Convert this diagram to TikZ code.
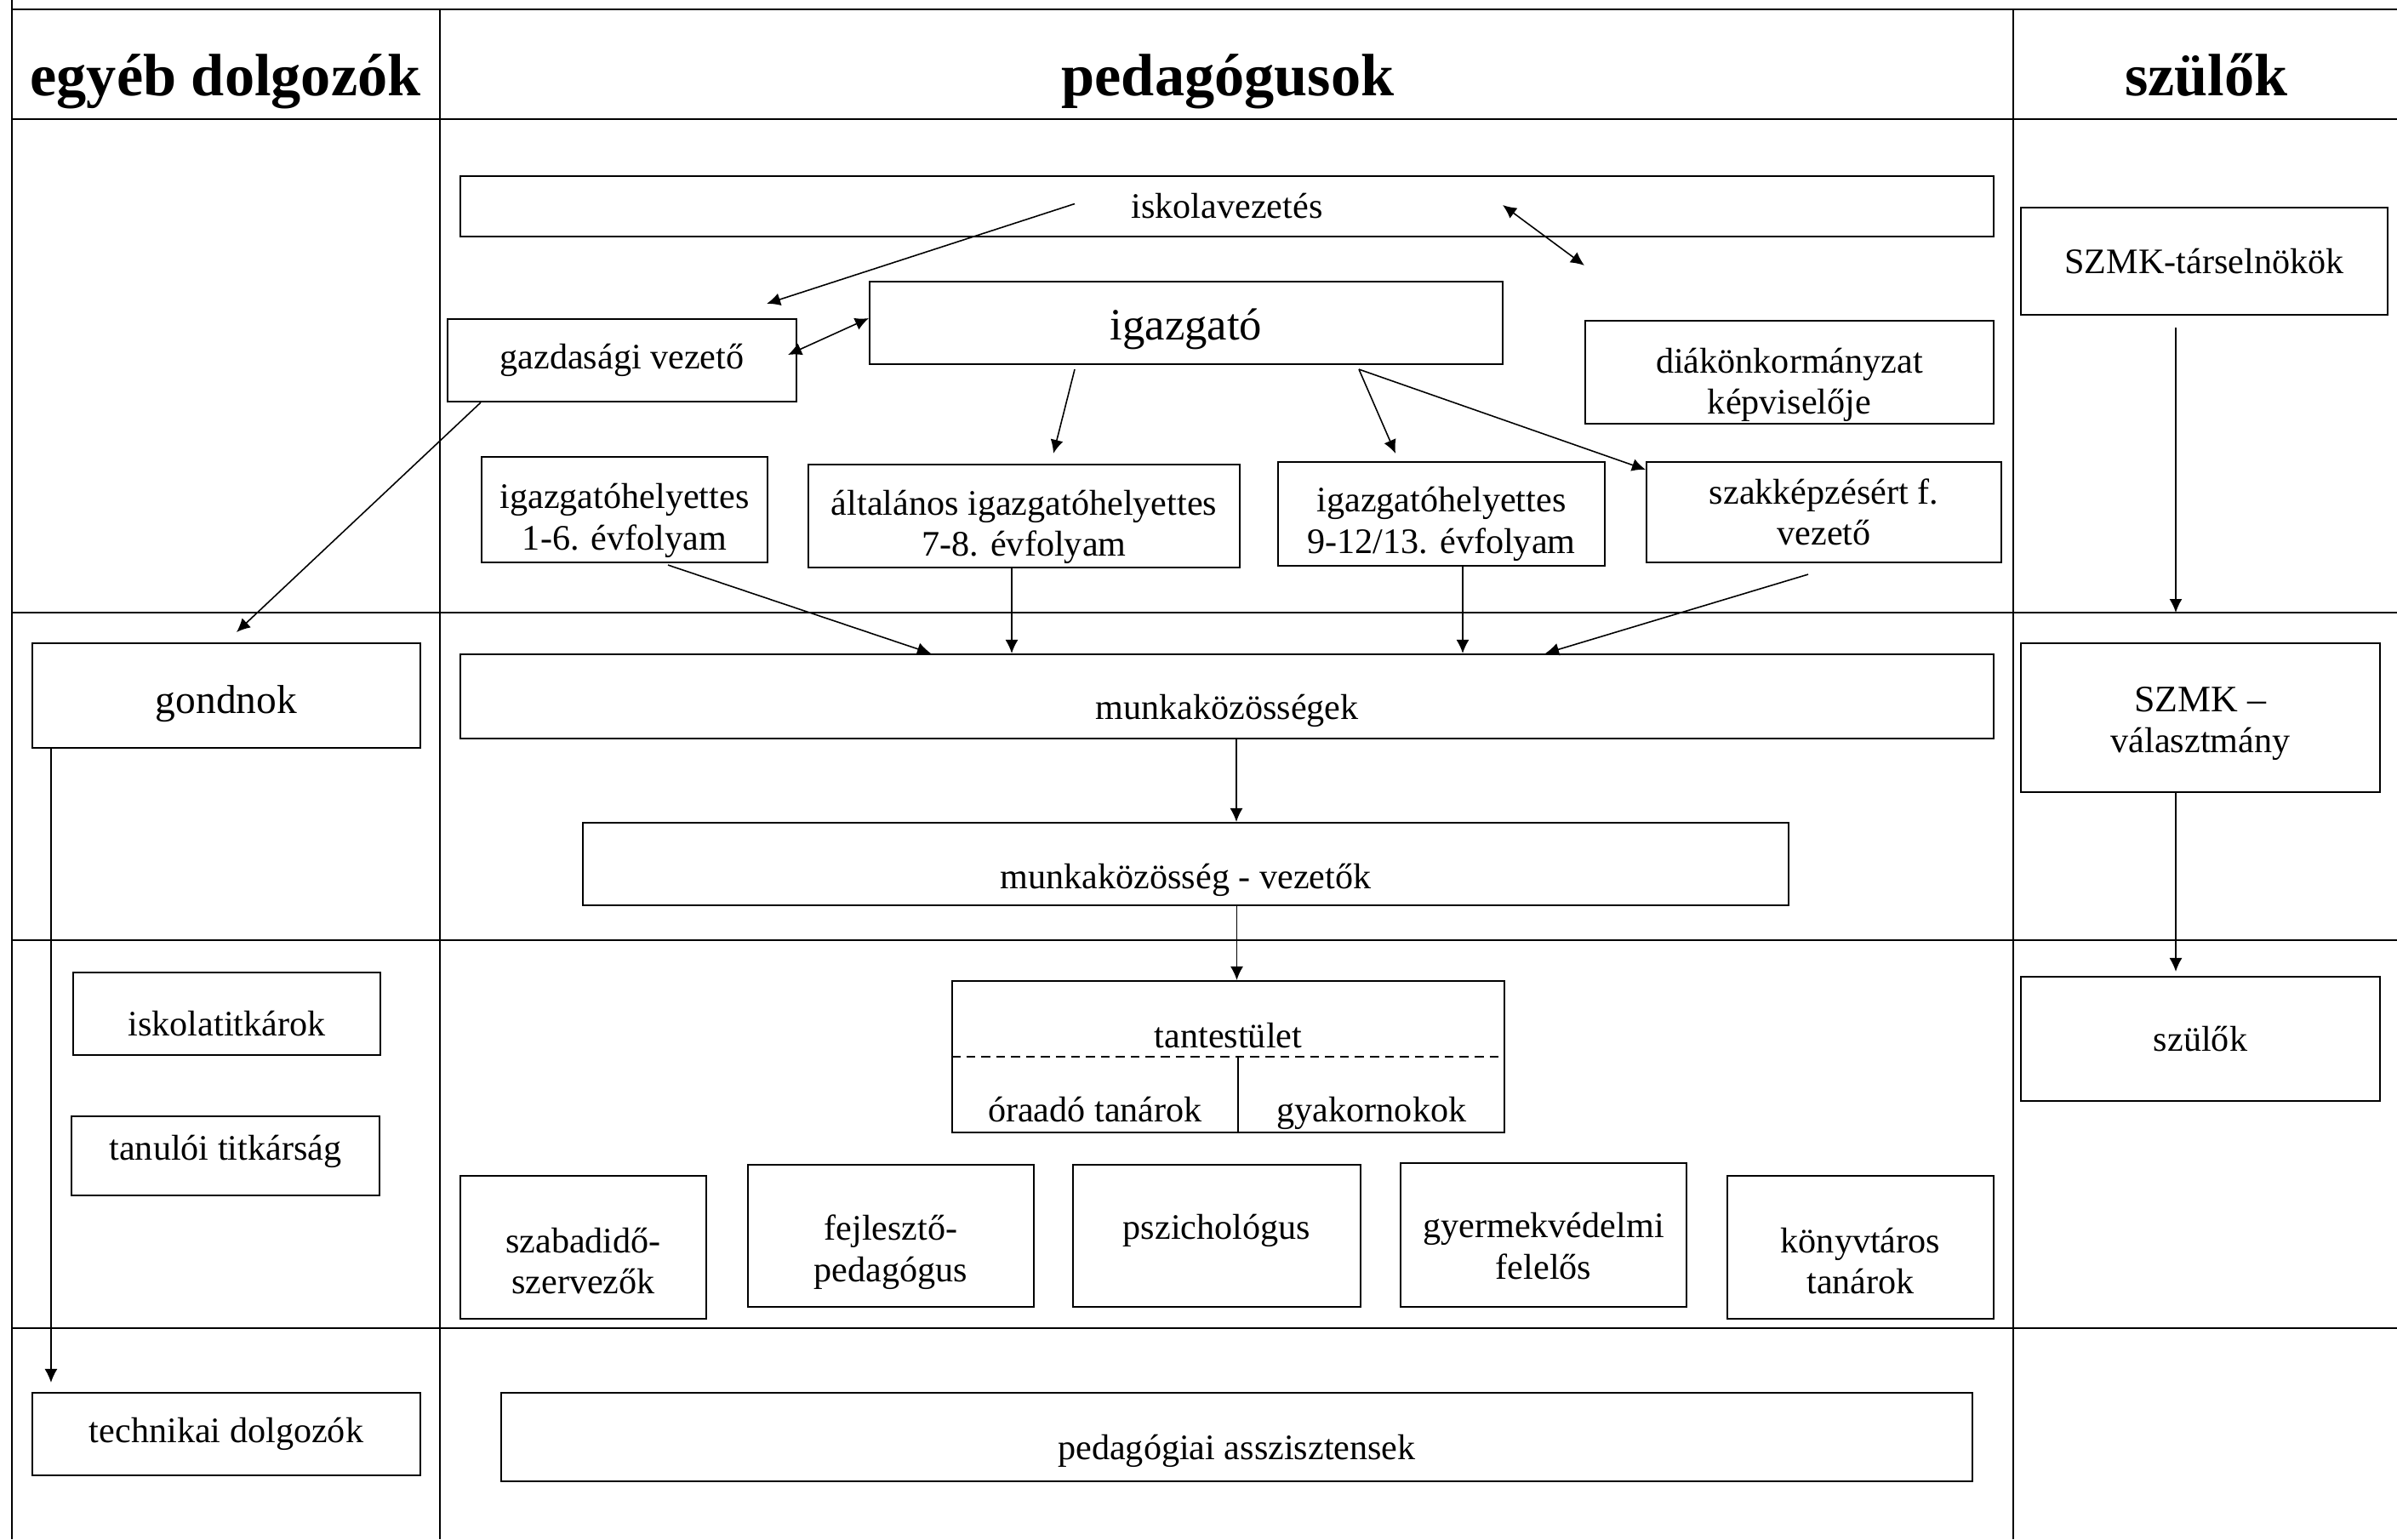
\documentclass[tikz,border=0pt]{standalone}
\usepackage{fontspec}
\setmainfont{Liberation Serif}
\usetikzlibrary{arrows.meta}

\begin{document}
\begin{tikzpicture}[
  font=\fontsize{12}{13.8}\selectfont,
  >={Latex[length=1.6mm,width=1.5mm]},
  box/.style={draw, line width=0.6pt, inner sep=0pt, align=center},
  lbl/.style 2 args={label={[align=center,yshift=#1]center:#2}},
  rowline/.style={line width=0.7pt},
  colline/.style={line width=0.5pt},
  head/.style={font=\fontsize{20}{24}\selectfont\bfseries, anchor=base},
  conn/.style={->, line width=0.45pt}
]
\useasboundingbox (0,0) rectangle (28.17,-18.09);

% table grid
\coordinate (row2) at (0.14,-7.20);
\draw[colline] (0.14,0) -- (0.14,-18.09);
\draw[colline] (5.17,-0.11) -- (5.17,-18.09);
\draw[colline] (23.66,-0.11) -- (23.66,-18.09);
\draw[rowline] (0.14,-0.11) -- (28.17,-0.11);
\draw[rowline] (0.14,-1.40) -- (28.17,-1.40);
\draw[rowline] (row2) -- (28.17,-7.20);
\draw[rowline] (0.14,-11.05) -- (28.17,-11.05);
\draw[rowline] (0.14,-15.61) -- (28.17,-15.61);

% column heads
\node (hegyeb) [head] at (2.65,-1.125) {egyéb dolgozók};
\node (hped) [head] at (14.43,-1.125) {pedagógusok};
\node (hszulo) [head] at (25.93,-1.125) {szülők};

% leadership
\node (isk) [box, minimum width=18.02cm, minimum height=0.71cm] at (14.42,-2.425) {iskolavezetés};
\node (igaz) [box, minimum width=7.44cm, minimum height=0.97cm, lbl={-0.7mm}{\fontsize{15}{18}\selectfont igazgató}] at (13.94,-3.795) {};
\node (gaz) [box, minimum width=4.10cm, minimum height=0.97cm] at (7.31,-4.235) {gazdasági vezető};
\node (diak) [box, minimum width=4.80cm, minimum height=1.21cm, lbl={-1.5mm}{diákönkormányzat\\képviselője}] at (21.03,-4.375) {};
\node (ih1) [box, minimum width=3.36cm, minimum height=1.24cm, lbl={-1.3mm}{igazgatóhelyettes\\1-6. évfolyam}] at (7.34,-5.99) {};
\node (alt) [box, minimum width=5.07cm, minimum height=1.21cm, lbl={-1.3mm}{általános igazgatóhelyettes\\7-8. évfolyam}] at (12.035,-6.065) {};
\node (ih9) [box, minimum width=3.84cm, minimum height=1.22cm, lbl={-1.2mm}{igazgatóhelyettes\\9-12/13. évfolyam}] at (16.94,-6.04) {};
\node (szakk) [box, minimum width=4.17cm, minimum height=1.18cm] at (21.435,-6.02) {szakképzésért f.\\vezető};
\node (szmkt) [box, minimum width=4.31cm, minimum height=1.26cm] at (25.905,-3.07) {SZMK-társelnökök};

% middle row
\node (gondnok) [box, minimum width=4.56cm, minimum height=1.23cm, lbl={-1mm}{\fontsize{13.5}{16}\selectfont gondnok}] at (2.66,-8.175) {};
\node (munka) [box, minimum width=18.02cm, minimum height=0.99cm, lbl={-1.7mm}{munkaközösségek}] at (14.42,-8.185) {};
\node (szmkv) [box, minimum width=4.22cm, minimum height=1.75cm, lbl={-0.7mm}{\fontsize{12.5}{14.4}\selectfont SZMK --\\választmány}] at (25.86,-8.435) {};
\node (mvez) [box, minimum width=14.17cm, minimum height=0.97cm, lbl={-1.85mm}{munkaközösség - vezetők}] at (13.935,-10.155) {};

% teaching staff
\node (tant) [box, minimum width=6.49cm, minimum height=1.78cm] at (14.435,-12.42) {};
\coordinate (tantsep) at (14.55,-12.42);
\draw[densely dashed, line width=0.4pt] (tant.west |- tantsep) -- (tant.east |- tantsep);
\draw[line width=0.5pt] (tantsep) -- (tantsep |- tant.south);
\node (tantfej) [anchor=base] at (14.435,-12.31) {tantestület};
\node (oraado) [anchor=base] at (12.87,-13.18) {óraadó tanárok};
\node (gyak) [anchor=base] at (16.12,-13.18) {gyakornokok};
\node (isktit) [box, minimum width=3.61cm, minimum height=0.97cm, lbl={-1.2mm}{iskolatitkárok}] at (2.665,-11.915) {};
\node (tantit) [box, minimum width=3.62cm, minimum height=0.93cm, lbl={0.5mm}{tanulói titkárság}] at (2.65,-13.585) {};
\node (szulok) [box, minimum width=4.22cm, minimum height=1.46cm] at (25.86,-12.21) {szülők};
\node (szab) [box, minimum width=2.89cm, minimum height=1.68cm, lbl={-1.6mm}{szabadidő-\\szervezők}] at (6.855,-14.66) {};
\node (fejl) [box, minimum width=3.36cm, minimum height=1.67cm, lbl={-1.9mm}{fejlesztő-\\pedagógus}] at (10.47,-14.525) {};
\node (pszich) [box, minimum width=3.38cm, minimum height=1.67cm, lbl={0.6mm}{pszichológus}] at (14.30,-14.525) {};
\node (gyerm) [box, minimum width=3.36cm, minimum height=1.69cm, lbl={-1.3mm}{gyermekvédelmi\\felelős}] at (18.14,-14.515) {};
\node (konyv) [box, minimum width=3.13cm, minimum height=1.68cm, lbl={-1.6mm}{könyvtáros\\tanárok}] at (21.865,-14.66) {};

% bottom row
\node (techn) [box, minimum width=4.56cm, minimum height=0.97cm] at (2.66,-16.855) {technikai dolgozók};
\node (pedass) [box, minimum width=17.29cm, minimum height=1.04cm, lbl={-1.6mm}{pedagógiai asszisztensek}] at (14.535,-16.89) {};

% connectors
\coordinate (igazfork) at ([xshift=2.03cm,yshift=-0.05cm]igaz.south);
\draw[conn] ([xshift=-1.79cm,yshift=0.03cm]isk.center) -- ([xshift=-0.36cm,yshift=0.17cm]gaz.north east);
\draw[conn,<->] ([xshift=3.24cm,yshift=0.015cm]isk.center) -- ([yshift=0.64cm]diak.north west);
\draw[conn,<->] ([xshift=-0.11cm,yshift=0.065cm]gaz.east) -- ([yshift=0.055cm]igaz.west);
\draw[conn] ([xshift=-1.31cm,yshift=-0.05cm]igaz.south) -- ([xshift=0.345cm,yshift=0.12cm]alt.north);
\draw[conn] (igazfork) -- ([xshift=-0.54cm,yshift=0.09cm]ih9.north);
\draw[conn] (igazfork) -- ([yshift=-0.1cm]szakk.north west);
\draw[conn] ([xshift=0.40cm]gaz.south west) -- ([xshift=0.12cm,yshift=0.12cm]gondnok.north);
\draw[conn] ([xshift=0.51cm,yshift=-0.02cm]ih1.south) -- ([xshift=-3.48cm]munka.north);
\draw[conn] ([xshift=-0.145cm]alt.south) -- ([xshift=-0.145cm]alt.south |- munka.north);
\draw[conn] ([xshift=0.25cm]ih9.south) -- ([xshift=0.25cm]ih9.south |- munka.north);
\draw[conn] ([xshift=-0.185cm,yshift=-0.13cm]szakk.south) -- ([xshift=3.74cm]munka.north);
\draw[conn] ([xshift=0.11cm]munka.south) -- ([xshift=0.11cm]munka.south |- mvez.north);
\draw[conn] ([xshift=0.1cm]tant.north |- mvez.south) -- ([xshift=0.1cm]tant.north);
\draw[conn] ([xshift=0.23cm]gondnok.south west) -- ([xshift=0.23cm,yshift=0.11cm]techn.north west);
\draw[conn] ([xshift=-0.335cm,yshift=-0.14cm]szmkt.south) -- ([xshift=-0.335cm]szmkt.south |- row2);
\draw[conn] ([xshift=-0.29cm]szmkv.south) -- ([xshift=-0.29cm,yshift=0.05cm]szmkv.south |- szulok.north);
\end{tikzpicture}
\end{document}
